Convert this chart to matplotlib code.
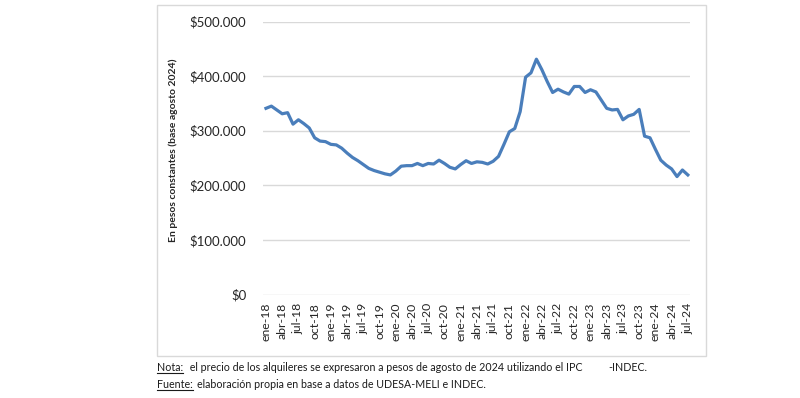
import matplotlib
matplotlib.use("Agg")
import matplotlib.pyplot as plt
from matplotlib.patches import Rectangle
from matplotlib.lines import Line2D
from matplotlib.ticker import FuncFormatter
from matplotlib import font_manager

plt.rcParams['font.family'] = ['Lato', 'DejaVu Sans']

names = {f.name for f in font_manager.fontManager.ttflist}
NOTE_FAMILY = ['Liberation Sans Narrow', 'Lato'] if 'Liberation Sans Narrow' in names else ['Lato']
NOTE_SIZE = 9.0 if 'Liberation Sans Narrow' in names else 7.7

# ---- data (monthly, ene-18 .. jul-24), thousands of constant pesos ----
meses = ['ene', 'feb', 'mar', 'abr', 'may', 'jun', 'jul', 'ago', 'sep', 'oct', 'nov', 'dic']
years = [18, 19, 20, 21, 22, 23, 24]
months_labels = [f"{m}-{y}" for y in years for m in meses][:79]

valores_miles = [
    341, 345, 338, 331, 333, 312, 320, 313, 305, 287, 281, 280,   # 2018
    275, 274, 268, 259, 251, 245, 238, 231, 227, 224, 221, 219,   # 2019
    226, 235, 236, 236, 240, 236, 240, 239, 246, 240, 233, 230,   # 2020
    238, 245, 240, 243, 242, 239, 244, 253, 275, 298, 304, 335,   # 2021
    398, 406, 431, 412, 390, 370, 376, 371, 367, 381, 381, 370,   # 2022
    375, 371, 356, 341, 338, 339, 320, 327, 330, 339, 290, 287,   # 2023
    266, 246, 237, 230, 216, 228, 219,                             # 2024
]
valores = [v * 1000 for v in valores_miles]
y_ticks = [0, 100000, 200000, 300000, 400000, 500000]

W, H = 800, 398
fig = plt.figure(figsize=(W / 100, H / 100), dpi=100)

def fx(px):
    return px / W

def fy(py):
    return 1 - py / H

# chart border box
fig.patches.append(Rectangle((fx(157), fy(356)), fx(706) - fx(157), fy(5) - fy(356),
                             transform=fig.transFigure, fill=False,
                             edgecolor='#D9D9D9', linewidth=1.0))

ax_left, ax_right, ax_top, ax_bottom = 263, 690, 21.5, 294.5
ax = fig.add_axes([fx(ax_left), fy(ax_bottom), fx(ax_right) - fx(ax_left), fy(ax_top) - fy(ax_bottom)])

x = list(range(len(valores)))
ax.plot(x, valores, color='#4A7EBB', linewidth=2.3, solid_joinstyle='round', zorder=3)

ax.set_ylim(0, 500000)
ax.set_xlim(-0.55, 78.4)
ax.set_yticks(y_ticks)
ax.yaxis.set_major_formatter(FuncFormatter(lambda v, p: "$" + (f"{int(v):,}".replace(",", ".") if v else "0")))
ax.grid(axis='y', color='#D9D9D9', linewidth=1.0)
ax.set_axisbelow(True)
for s in ax.spines.values():
    s.set_visible(False)
ax.tick_params(axis='y', length=0, pad=12, labelsize=9.5, labelcolor='#262626')

tick_pos = list(range(0, len(valores), 3))
ax.set_xticks(tick_pos)
ax.set_xticklabels([months_labels[i] for i in tick_pos], rotation=90, fontsize=8.8, color='#262626')
ax.tick_params(axis='x', length=0, pad=6)

fig.text(fx(173), fy(150), 'En pesos constantes (base agosto 2024)', rotation=90,
         ha='center', va='center', fontsize=7.5, fontweight='bold', color='#262626')

# notes
fig.canvas.draw()
renderer = fig.canvas.get_renderer()

def underlined(xpx, ypx, label, rest, size=NOTE_SIZE):
    t = fig.text(fx(xpx), fy(ypx), label, fontsize=size, family=NOTE_FAMILY,
                 ha='left', va='baseline', color='#1a1a1a')
    bb = t.get_window_extent(renderer)
    x0, x1 = bb.x0, bb.x1
    yline = (H - ypx) - 2
    fig.lines.append(Line2D([x0 / W, x1 / W], [yline / H, yline / H], transform=fig.transFigure,
                            color='#1a1a1a', linewidth=0.8))
    fig.text((x1 + 4) / W, fy(ypx), rest, fontsize=size, family=NOTE_FAMILY,
             ha='left', va='baseline', color='#1a1a1a')

underlined(157, 371, 'Nota:', ' el precio de los alquileres se expresaron a pesos de agosto de 2024 utilizando el IPC')
fig.text(fx(608), fy(371), '-INDEC.', fontsize=NOTE_SIZE, family=NOTE_FAMILY,
         ha='left', va='baseline', color='#1a1a1a')
underlined(157, 388, 'Fuente:', 'elaboración propia en base a datos de UDESA-MELI e INDEC.')

fig.savefig('out.png', dpi=100, facecolor='white')
